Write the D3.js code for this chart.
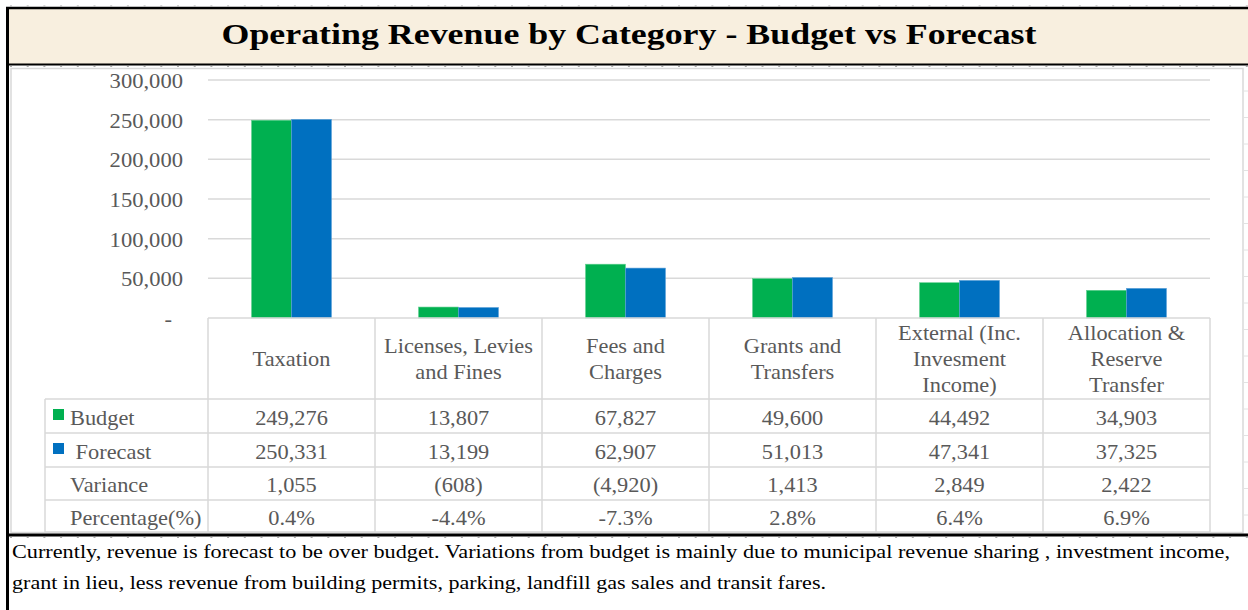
<!DOCTYPE html>
<html>
<head>
<meta charset="utf-8">
<script src="https://cdn.jsdelivr.net/npm/d3@7"></script>
<style>
  html, body { margin: 0; padding: 0; background: #fff; }
  svg { display: block; font-family: "Liberation Serif", "Times New Roman", serif; }
</style>
</head>
<body>
<svg id="chart" width="1248" height="610"></svg>
<script>
const categories = ['Taxation', 'Licenses, Levies and Fines', 'Fees and Charges',
  'Grants and Transfers', 'External (Inc. Invesment Income)', 'Allocation & Reserve Transfer'];
const categoryLines = [
  ['Taxation'],
  ['Licenses, Levies', 'and Fines'],
  ['Fees and', 'Charges'],
  ['Grants and', 'Transfers'],
  ['External (Inc.', 'Invesment', 'Income)'],
  ['Allocation &', 'Reserve', 'Transfer']
];
const budget     = [249276, 13807, 67827, 49600, 44492, 34903];
const forecast   = [250331, 13199, 62907, 51013, 47341, 37325];
const variance   = ['1,055', '(608)', '(4,920)', '1,413', '2,849', '2,422'];
const percentage = ['0.4%', '-4.4%', '-7.3%', '2.8%', '6.4%', '6.9%'];
const yTicks = [0, 50000, 100000, 150000, 200000, 250000, 300000];

const TITLE = 'Operating Revenue by Category - Budget vs Forecast';
const NOTE = [
  'Currently, revenue is forecast to be over budget. Variations from budget is mainly due to municipal revenue sharing , investment income,',
  'grant in lieu, less revenue from building permits, parking, landfill gas sales and transit fares.'
];

const GREEN = '#00b050';
const BLUE  = '#0070c0';
const GRID  = '#d9d9d9';
const TEXT  = '#595959';

const svg = d3.select('#chart');

// plot geometry
const plotLeft = 208, plotRight = 1210;
const plotTop = 80, plotBottom = 318;
const rowEdges = [318, 399, 433, 467, 500, 532];

// text drawn a little wider than the font, like the original export
function label(parent, x, y, str, opt) {
  const o = Object.assign({ size: 21.5, sx: 1.04, anchor: 'start', fill: TEXT, weight: 'normal', dy: '0.4em' }, opt);
  return parent.append('text')
    .attr('transform', `translate(${x},${y}) scale(${o.sx},1)`)
    .attr('dy', o.dy)
    .attr('text-anchor', o.anchor)
    .attr('font-size', o.size + 'px')
    .attr('font-weight', o.weight)
    .attr('fill', o.fill)
    .attr('xml:space', 'preserve')
    .style('white-space', 'pre')
    .text(str);
}

// sheet gridlines peeking out on the right
d3.range(91, 530, 26.5).forEach(yy => {
  svg.append('line').attr('x1', 1244).attr('x2', 1248).attr('y1', yy).attr('y2', yy)
    .attr('stroke', '#e2e2e2').attr('stroke-width', 1);
});

// title band
svg.append('rect').attr('x', 8).attr('y', 9).attr('width', 1240).attr('height', 55)
  .attr('fill', '#f8efdf');
svg.append('line').attr('x1', 6).attr('x2', 1248).attr('y1', 8).attr('y2', 8)
  .attr('stroke', '#000').attr('stroke-width', 2.5);
svg.append('line').attr('x1', 6).attr('x2', 1248).attr('y1', 64.5).attr('y2', 64.5)
  .attr('stroke', '#000').attr('stroke-width', 2);
[6, 66.5].forEach(yy => {
  svg.append('line').attr('x1', 10).attr('x2', 1248).attr('y1', yy).attr('y2', yy)
    .attr('stroke', '#aaa').attr('stroke-width', 1).attr('stroke-dasharray', '2,14.7');
});
label(svg, 629, 43.5, TITLE, { size: 30.5, sx: 1.176, anchor: 'middle', fill: '#000', weight: 'bold', dy: 0 });

// chart area border
svg.append('rect').attr('x', 11).attr('y', 68.5).attr('width', 1232).attr('height', 464)
  .attr('fill', '#fff').attr('stroke', GRID).attr('stroke-width', 1.5);

const y = d3.scaleLinear().domain([0, 300000]).range([plotBottom, plotTop]);

const x0 = d3.scaleBand().domain(categories).range([plotLeft, plotRight]).padding(0);
const x1 = d3.scaleBand().domain(['Budget', 'Forecast'])
  .range([0, x0.bandwidth()]).paddingInner(0).paddingOuter(1.09);

// gridlines
svg.append('g')
  .selectAll('line')
  .data(yTicks.filter(d => d > 0))
  .join('line')
  .attr('x1', plotLeft).attr('x2', plotRight)
  .attr('y1', d => y(d)).attr('y2', d => y(d))
  .attr('stroke', GRID).attr('stroke-width', 1.5);

// y axis (labels only, scaled the same way as the rest of the text)
const yAxis = svg.append('g')
  .attr('transform', `translate(${plotLeft},0)`)
  .call(d3.axisLeft(y).tickValues(yTicks).tickSize(0).tickPadding(25)
    .tickFormat(d => d === 0 ? '-' : d3.format(',')(d)));
yAxis.select('.domain').remove();
yAxis.selectAll('.tick text')
  .attr('font-family', '"Liberation Serif", "Times New Roman", serif')
  .attr('font-size', '20px').attr('fill', TEXT)
  .attr('dy', '0.37em')
  .attr('transform', d => `translate(${d === 0 ? -11 : 0},0) scale(1.13,1)`)
  .attr('x', -25 / 1.13);

// bars
const groups = svg.append('g').selectAll('g')
  .data(categories)
  .join('g')
  .attr('transform', d => `translate(${x0(d)},0)`);

groups.append('rect')
  .attr('x', x1('Budget')).attr('width', x1.bandwidth())
  .attr('y', (d, i) => y(budget[i])).attr('height', (d, i) => y(0) - y(budget[i]))
  .attr('fill', GREEN).attr('stroke', '#5fd08f').attr('stroke-width', 0.6);

groups.append('rect')
  .attr('x', x1('Forecast')).attr('width', x1.bandwidth())
  .attr('y', (d, i) => y(forecast[i])).attr('height', (d, i) => y(0) - y(forecast[i]))
  .attr('fill', BLUE).attr('stroke', '#5a9fd8').attr('stroke-width', 0.6);

// data table
const table = svg.append('g').attr('stroke', GRID).attr('stroke-width', 1.5);
const tableLeft = 45;
rowEdges.forEach((ry, i) => {
  table.append('line')
    .attr('x1', i === 0 ? plotLeft : tableLeft).attr('x2', plotRight)
    .attr('y1', ry).attr('y2', ry);
});
const colEdges = categories.map(c => x0(c)).concat([plotRight]);
colEdges.forEach(cx => {
  table.append('line').attr('x1', cx).attr('x2', cx)
    .attr('y1', rowEdges[0]).attr('y2', rowEdges[rowEdges.length - 1]);
});
table.append('line').attr('x1', tableLeft).attr('x2', tableLeft)
  .attr('y1', rowEdges[1]).attr('y2', rowEdges[rowEdges.length - 1]);

// category header cells
const headerMid = (rowEdges[0] + rowEdges[1]) / 2 - 1;
const lineH = 26;
categoryLines.forEach((lines, i) => {
  const cx = x0(categories[i]) + x0.bandwidth() / 2;
  lines.forEach((ln, j) => {
    label(svg, cx, headerMid + (j - (lines.length - 1) / 2) * lineH, ln, { anchor: 'middle' });
  });
});

// value rows
const rows = [
  { label: 'Budget', values: budget.map(d3.format(',')), key: GREEN },
  { label: ' Forecast', values: forecast.map(d3.format(',')), key: BLUE },
  { label: 'Variance', values: variance, key: null },
  { label: 'Percentage(%)', values: percentage, key: null }
];

rows.forEach((row, r) => {
  const mid = (rowEdges[r + 1] + rowEdges[r + 2]) / 2;
  if (row.key) {
    svg.append('rect').attr('x', 53).attr('y', mid - 7).attr('width', 11).attr('height', 11)
      .attr('fill', row.key);
  }
  label(svg, 70, mid, row.label);
  row.values.forEach((v, i) => {
    label(svg, x0(categories[i]) + x0.bandwidth() / 2, mid, v, { anchor: 'middle' });
  });
});

// bottom rule + left rule
svg.append('line').attr('x1', 6).attr('x2', 1248).attr('y1', 535).attr('y2', 535)
  .attr('stroke', '#000').attr('stroke-width', 3);
svg.append('line').attr('x1', 10).attr('x2', 1248).attr('y1', 537.5).attr('y2', 537.5)
  .attr('stroke', '#aaa').attr('stroke-width', 1).attr('stroke-dasharray', '2,14.7');
svg.append('line').attr('x1', 7.5).attr('x2', 7.5).attr('y1', 7).attr('y2', 610)
  .attr('stroke', '#000').attr('stroke-width', 3);

// note
const noteWidths = [1218, 814];
NOTE.forEach((ln, i) => {
  svg.append('text')
    .attr('x', 12).attr('y', 558 + i * 31)
    .attr('font-size', '18.5px').attr('fill', '#000')
    .attr('textLength', noteWidths[i]).attr('lengthAdjust', 'spacingAndGlyphs')
    .text(ln);
});
</script>
</body>
</html>
